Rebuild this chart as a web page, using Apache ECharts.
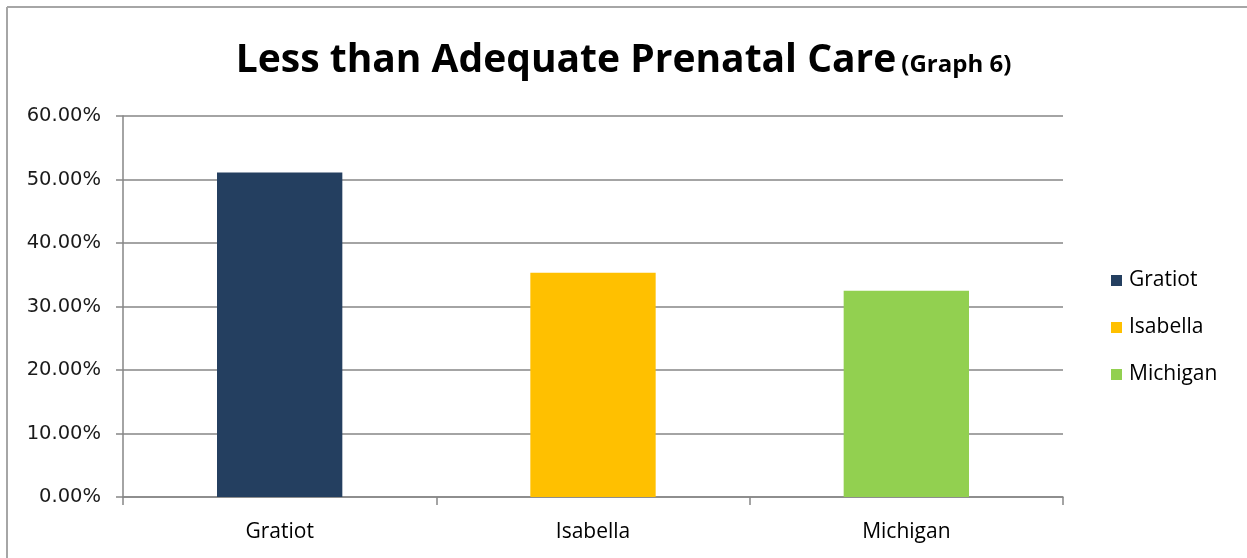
<!DOCTYPE html>
<html>
<head>
<meta charset="utf-8">
<script src="https://cdn.jsdelivr.net/npm/echarts@6/dist/echarts.min.js"></script>
<style>
  html, body { margin: 0; padding: 0; background: #ffffff; }
  #chart { width: 1247px; height: 558px; }
</style>
</head>
<body>
<div id="chart"></div>
<script>
// Share of births with less than adequate prenatal care
const categories = ['Gratiot', 'Isabella', 'Michigan'];
const values = [51.1, 35.3, 32.5];
const yTicks = { min: 0, max: 60, step: 10 };

const palette = ['#243F60', '#FFC000', '#92D050'];
const labelFont = 'Open Sans';
const numberFont = 'DejaVu Sans';

const chart = echarts.init(document.getElementById('chart'), null, { renderer: 'canvas' });

// One series per region so each gets its own legend entry; they overlap on the shared category axis
const series = categories.map((name, i) => ({
  name: name,
  type: 'bar',
  barWidth: '40%',
  barGap: '-100%',
  itemStyle: { color: palette[i] },
  emphasis: { disabled: true },
  data: categories.map((c, j) => (j === i ? values[i] : '-'))
}));

chart.setOption({
  animation: false,
  backgroundColor: '#ffffff',
  title: {
    text: '{a|Less than Adequate Prenatal Care} {b|(Graph 6)}',
    left: 'center',
    top: 36,
    textStyle: {
      rich: {
        a: { fontFamily: labelFont, fontWeight: 'bold', fontSize: 39, color: '#000000' },
        b: { fontFamily: labelFont, fontWeight: 'bold', fontSize: 24, color: '#000000', padding: [9, 0, 0, 0] }
      }
    }
  },
  legend: {
    orient: 'vertical',
    left: 1106,
    top: 265,
    itemWidth: 11,
    itemHeight: 11,
    itemGap: 26,
    icon: 'rect',
    selectedMode: false,
    textStyle: { fontFamily: labelFont, fontSize: 21, color: '#000000', lineHeight: 20, padding: [0, 0, 0, 2] },
    data: categories
  },
  grid: { left: 123, right: 184, top: 116, bottom: 61, containLabel: false },
  xAxis: {
    type: 'category',
    data: categories,
    axisLine: { show: true, lineStyle: { color: '#868686', width: 1.5 } },
    axisTick: { show: true, length: 8, interval: 0, lineStyle: { color: '#868686', width: 1.5 } },
    axisLabel: { margin: 25, fontFamily: labelFont, fontSize: 21, color: '#000000' }
  },
  yAxis: {
    type: 'value',
    min: yTicks.min,
    max: yTicks.max,
    interval: yTicks.step,
    axisLine: { show: true, lineStyle: { color: '#868686', width: 1.5 } },
    axisTick: { show: true, length: 7, lineStyle: { color: '#868686', width: 1.5 } },
    splitLine: { show: true, lineStyle: { color: '#868686', width: 1.5 } },
    axisLabel: {
      margin: 22,
      fontFamily: numberFont,
      fontSize: 19.5,
      color: '#1a1a1a',
      formatter: v => v.toFixed(2) + '%'
    }
  },
  graphic: [
    { type: 'line', shape: { x1: 7, y1: 7, x2: 1247, y2: 7 }, style: { stroke: '#a6a6a6', lineWidth: 2 } },
    { type: 'line', shape: { x1: 7, y1: 7, x2: 7, y2: 558 }, style: { stroke: '#a6a6a6', lineWidth: 2 } }
  ],
  series: series
});
</script>
</body>
</html>
